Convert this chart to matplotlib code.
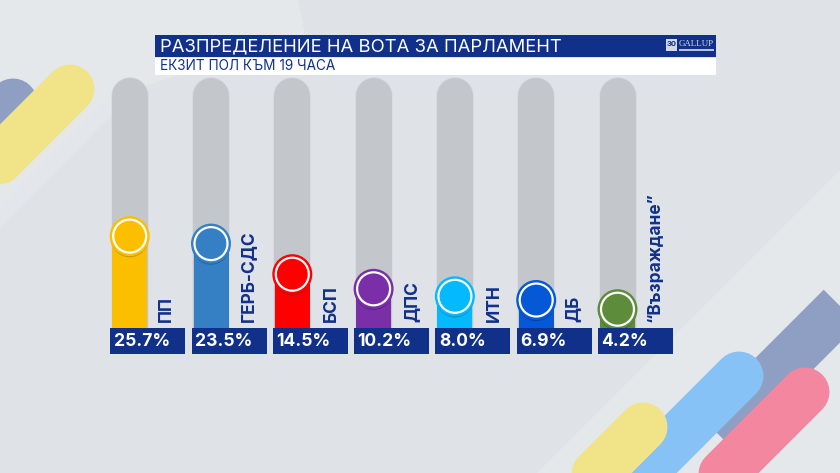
import matplotlib
matplotlib.use("Agg")
import matplotlib.pyplot as plt
from matplotlib.patches import Polygon, Rectangle

plt.rcParams['font.family'] = ['Inter', 'Noto Sans', 'DejaVu Sans']

# данни
partii = ['ПП', 'ГЕРБ-СДС', 'БСП', 'ДПС', 'ИТН', 'ДБ', '“Възраждане”']
stoinosti = [25.7, 23.5, 14.5, 10.2, 8.0, 6.9, 4.2]
etiketi = ['25.7%', '23.5%', '14.5%', '10.2%', '8.0%', '6.9%', '4.2%']
cvetove = ['#fbbf00', '#3580c4', '#fe0000', '#7a2fa8', '#04b9fe', '#0559d6', '#5d8c3a']
senki = ['#c99a08', '#2a659c', '#c40a0a', '#5f2585', '#0a93c9', '#0546a8', '#47702c']
zaglavie = 'РАЗПРЕДЕЛЕНИЕ НА ВОТА ЗА ПАРЛАМЕНТ'
podzaglavie = 'ЕКЗИТ ПОЛ КЪМ 19 ЧАСА'

NAVY = '#10308a'
W, H = 840, 473
PT = 0.72  # px -> pt при dpi=100
STEP = 81.3
X0 = 129.7

fig = plt.figure(figsize=(W / 100, H / 100), dpi=100)


def px_axes(z):
    a = fig.add_axes([0, 0, 1, 1], zorder=z)
    a.set_xlim(0, W)
    a.set_ylim(H, 0)
    a.axis('off')
    return a


# фон
bg = px_axes(0)
bg.add_patch(Rectangle((0, 0), W, H, color='#dfe3e7', zorder=0))
bg.add_patch(Polygon([(0, 0), (298, 0), (305, 35), (110, 97), (0, 207)], color='#e5e8eb', zorder=1, ec='none'))
bg.add_patch(Polygon([(0, 207), (110, 97), (130, 97), (0, 228)], color='#e3e6ea', zorder=1, ec='none'))
bg.add_patch(Polygon([(840, 170), (537, 473), (840, 473)], color='#e5e8eb', zorder=1, ec='none'))


def lenta(x1, y1, x2, y2, w, c, z, cap='round'):
    bg.plot([x1, x2], [y1, y2], color=c, lw=w * PT, solid_capstyle=cap, zorder=z)


lenta(13, 103, -120, 236, 49, '#8f9fc4', 2)
lenta(70, 89, -120, 279, 49, '#f1e488', 3)
lenta(1000, 148, 716, 432, 49, '#8f9fc4', 2, 'butt')
lenta(643, 427, 520, 550, 49, '#f1e488', 4)
lenta(739, 376, 600, 515, 49, '#86c2f5', 3)
lenta(805, 392, 680, 517, 49, '#f3879f', 3)

# заглавна лента
bg.add_patch(Rectangle((155, 35), 561, 22, color=NAVY, zorder=5, lw=0))
bg.add_patch(Rectangle((155, 58), 561, 17, color='white', zorder=5, lw=0))
bg.text(160, 46.5, zaglavie, color='white', fontsize=13.3, va='center', ha='left', zorder=6)
bg.text(160, 66, podzaglavie, color=NAVY, fontsize=9.8, va='center', ha='left', zorder=6)
bg.add_patch(Rectangle((666, 39), 11, 12.5, color='#d5d9e6', zorder=6, lw=0))
bg.text(671.5, 44.5, '30', color=NAVY, fontsize=5.5, fontweight='bold', va='center', ha='center', zorder=7)
bg.text(696, 43.5, 'GALLUP', color='#d5d9e6', fontsize=6.4, family='Liberation Serif', va='center', ha='center', zorder=7)
bg.add_patch(Rectangle((679, 49), 35, 2.5, color='#b9c1da', zorder=6, lw=0))

# сиви улеи
for i in range(len(partii)):
    lenta(X0 + STEP * i, 96, X0 + STEP * i, 330, 37.5, '#d6d9dd', 7)
    lenta(X0 + STEP * i, 96, X0 + STEP * i, 330, 36, '#c3c7cb', 8)

# стълбове - оста е в проценти
ax = fig.add_axes([0, 0, 1, 1], zorder=1)
ax.patch.set_alpha(0)
ax.axis('off')
K = 3.4
Y0 = 323.5
ax.set_xlim(-X0 / STEP, (W - X0) / STEP)
ax.set_ylim((Y0 - H) / K, Y0 / K)

poz = list(range(len(partii)))
ax.bar(poz, [v + 1.5 for v in stoinosti], bottom=-1.5, width=35 / STEP, color=cvetove, zorder=2)
s_out = (40 * PT) ** 2
s_in = (33 * PT) ** 2
ax.scatter(poz, [v - 2.2 / K for v in stoinosti], s=(38 * PT) ** 2, c=senki, linewidths=0, zorder=3)
ax.scatter(poz, stoinosti, s=s_out, c=cvetove, linewidths=0, zorder=4)
ax.scatter(poz, stoinosti, s=s_in, c=cvetove, edgecolors='white', linewidths=2.2 * PT, zorder=5)

# етикети
top = px_axes(2)
otm = [37, 37, 39, 38, 39, 37, 38]
for i in poz:
    xc = X0 + STEP * i
    top.add_patch(Rectangle((xc - 19.5, 328), 75, 26, color=NAVY, lw=0, zorder=1))
    top.text(xc - 16, 341.5, etiketi[i], color='white', fontsize=12.6, fontweight='bold',
             va='center', ha='left', zorder=2)
    top.text(xc + otm[i], 322, partii[i], color=NAVY, fontsize=12.5, fontweight='bold',
             rotation=90, va='bottom', ha='center', zorder=2)

fig.savefig('out.png', dpi=100)
